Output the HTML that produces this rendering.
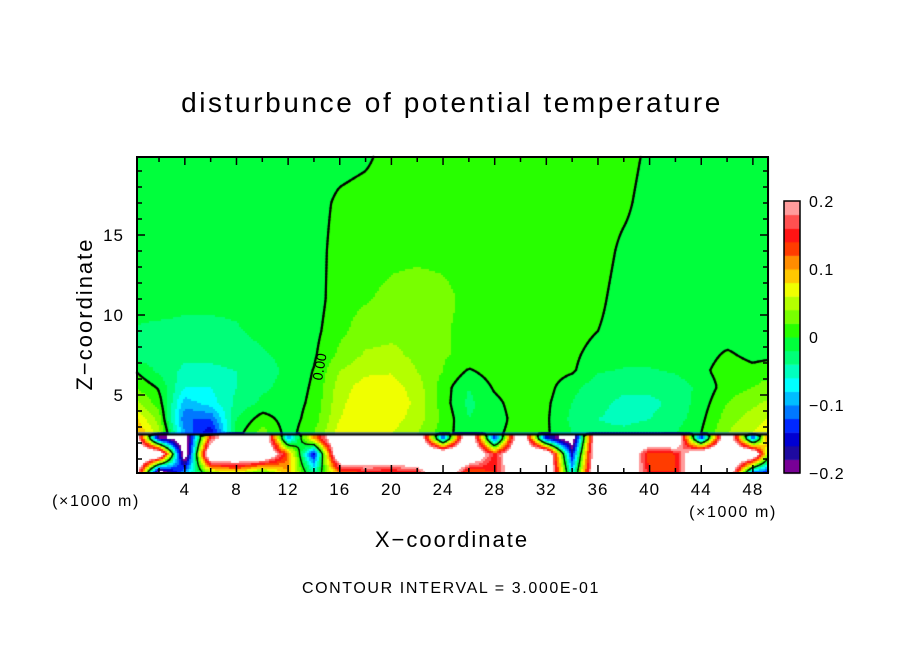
<!DOCTYPE html>
<html><head><meta charset="utf-8"><style>
html,body{margin:0;padding:0;background:#fff;}
#wrap{position:relative;width:904px;height:654px;overflow:hidden;font-family:"Liberation Sans",sans-serif;}
canvas{position:absolute;left:0;top:0;}
svg{position:absolute;left:0;top:0;}
</style></head><body>
<div id="wrap">
<canvas id="cv" width="904" height="654"></canvas>
<svg id="sv" width="904" height="654">
<text x="452" y="112" font-size="28" text-anchor="middle" letter-spacing="2.6">disturbunce of potential temperature</text>
<text x="452" y="547" font-size="22" text-anchor="middle" letter-spacing="2">X−coordinate</text>
<text transform="translate(92,314) rotate(-90)" font-size="22" text-anchor="middle" letter-spacing="2">Z−coordinate</text>
<text x="96" y="506" font-size="16" text-anchor="middle" letter-spacing="1.6">(×1000 m)</text>
<text x="733" y="517" font-size="16" text-anchor="middle" letter-spacing="1.6">(×1000 m)</text>
<text x="451" y="593" font-size="16" text-anchor="middle" letter-spacing="1.6">CONTOUR INTERVAL = 3.000E-01</text>
<text transform="translate(322,381) rotate(-80)" font-size="14">0.00</text>
<g id="axes"></g>
</svg>
</div>
<script>
// ---- data ----
const xNodes=[0,2,4,6,8,10,12,14,16,18,20,22,24,26,28,30,32,34,36,38,40,42,44,46,48,50];
const zUpper=[2.6,3.5,4.5,5.5,6.5,7.5,9,11,14,17,20];
// values in units of 0.01
const rowZ2_6=[11,5,-10,-16,-1,3,-1,2,7,8,6,4,1,-1.5,-0.5,1,0.3,-2,-3.5,-3.5,-3,-2,0,4,6,9];
const rowZ3_5=[9,3,-12,-12,-2,1,-1,1,6,7.5,7,5,1.5,-2,-1,1,0.3,-2.5,-4,-4.5,-4,-3,-0.5,3,5,7];
const rowZ4_5=[5,1,-9,-7,-3.5,-1.5,-1,0.5,5.5,7.5,7.5,5.5,1,-2.5,-0.5,1,0.4,-2,-3.5,-4.5,-4.5,-3.5,-1,2,3.5,5];
const rowZ5_5=[2,-0.3,-6,-6,-4,-2.5,-1.2,0.3,5,7,7,5,1,-2,0.3,1,0.8,-1.5,-3,-3.5,-3.5,-3,-1.5,1,2,3.5];
const rowZ6_5=[0.2,-2.5,-4.5,-4.5,-4,-3,-1.5,0.1,4,5.5,5.8,4,2,-0.3,1,1,1,0.3,-1.8,-2.2,-2.2,-1.8,-0.5,1,0.5,1.5];
const rowZ7_5=[-3,-3,-3.5,-3.5,-3,-2.2,-1.5,-0.3,2.5,4.3,4.5,3.5,2.2,1.5,1.2,1,1,0.5,-1,-1.2,-1.2,-1,-0.8,0.3,-0.5,-0.5];
const rowZ9=[-2.2,-2.5,-2.5,-2.5,-2.2,-1.5,-1,-0.6,1.5,3,3.5,3.5,2.2,1.5,1.2,1,1,1,0,-1,-1,-1,-1,-1,-1,-1];
const rowZ11=[-1,-1,-1.5,-1.5,-1.5,-1,-1,-1,1.2,1.8,2.5,3,2.5,1.5,1.2,1,1,1,0.5,-1,-1,-1,-1,-1,-1,-1];
const rowZ14=[-1,-1,-1,-1,-1,-1,-1,-1,1,1.2,1.5,1.5,1.5,1.2,1,1,1,1,1,-0.5,-1,-1,-1,-1,-1,-1];
const rowZ17=[-1,-1,-1,-1,-1,-1,-1,-1,0.5,1,1,1,1,1,1,1,1,1,1,0.5,-1,-1,-1,-1,-1,-1];
const rowZ20=[-1,-1,-1,-1,-1,-1,-1,-1,-1,-0.5,1,1,1,1,1,1,1,1,1,1,-0.5,-1,-1,-1,-1,-1];
const zLower=[0.2,1.3,2.3];
const lowZ0_2=[30,-22,-10,5,8,2,10,-5,12,15,14,16,30,12,14,30,30,-8,30,30,14,14,30,30,-10,-15];
const lowZ1_3=[30,30,-25,30,30,30,12,-15,30,30,30,30,30,30,15,30,30,-15,30,30,12,14,30,30,30,-15];
const lowZ2_3=[30,-18,-25,16,30,30,-10,10,30,30,30,30,-12,30,-14,30,-15,-25,30,30,30,30,-14,30,-12,30];
const upperRows=[rowZ2_6,rowZ3_5,rowZ4_5,rowZ5_5,rowZ6_5,rowZ7_5,rowZ9,rowZ11,rowZ14,rowZ17,rowZ20];
const lowerRows=[lowZ0_2,lowZ1_3,lowZ2_3];
const colorLevels=["#780096","#1e0aa0","#0000d2","#0028ff","#0078ff","#00beff","#00ffff","#00ffbe","#00ff78","#00ff3c","#28ff00","#78ff00","#b4ff00","#f0ff00","#ffc800","#ff8c00","#ff3c00","#ff1414","#ff5050","#ff9c9c"];
const xTicks=[4,8,12,16,20,24,28,32,36,40,44,48];
const zTicks=[5,10,15];
const cbTicks=[0.2,0.1,0,-0.1,-0.2];
const cbTickLabels=["0.2","0.1","0","−0.1","−0.2"];

// ---- scales ----
const PL=137,PR=768,PT=157,PB=473;
const X=x=>133.2+12.91*x;
const Y=z=>475-16*z;
const Xinv=p=>(p-133.2)/12.91;
const Yinv=p=>(475-p)/16;

function interp(nodes,v){
  if(v<=nodes[0])return [0,0];
  if(v>=nodes[nodes.length-1])return [nodes.length-2,1];
  for(let i=0;i<nodes.length-1;i++){if(v<=nodes[i+1])return [i,(v-nodes[i])/(nodes[i+1]-nodes[i])];}
}
function bil(rows,zn,x,z){
  const [i,fx]=interp(xNodes,x),[j,fz]=interp(zn,z);
  const a=rows[j][i],b=rows[j][i+1],c=rows[j+1][i],d=rows[j+1][i+1];
  return (a*(1-fx)+b*fx)*(1-fz)+(c*(1-fx)+d*fx)*fz;
}
function field(x,z){return z>=2.5?bil(upperRows,zUpper,x,z):bil(lowerRows,zLower,x,z);}
function color(v){
  if(v>=20||v<-20)return "#ffffff";
  return colorLevels[Math.max(0,Math.min(19,Math.floor((v+20)/2)))];
}
const cv=document.getElementById('cv'),ctx=cv.getContext('2d');
const S=2;
for(let py=PT;py<PB;py+=S){for(let px=PL;px<PR;px+=S){
  ctx.fillStyle=color(field(Xinv(px+S/2),Yinv(py+S/2)));
  ctx.fillRect(px,py,S,S);
}}
// zero contour via marching squares
const C=3;
function seg(p1,p2){ctx.beginPath();ctx.moveTo(p1[0],p1[1]);ctx.lineTo(p2[0],p2[1]);ctx.stroke();}
ctx.strokeStyle="#000";ctx.lineCap="round";
for(let py=PT;py<PB-1;py+=C){for(let px=PL;px<PR-1;px+=C){
  const x0=px,x1=Math.min(px+C,PR),y0=py,y1=Math.min(py+C,PB);
  const v=[field(Xinv(x0),Yinv(y0)),field(Xinv(x1),Yinv(y0)),field(Xinv(x1),Yinv(y1)),field(Xinv(x0),Yinv(y1))];
  const P=[[x0,y0],[x1,y0],[x1,y1],[x0,y1]];
  const pts=[];
  for(let k=0;k<4;k++){const a=v[k],b=v[(k+1)%4];
    if((a<0)!==(b<0)){const t=a/(a-b);pts.push([P[k][0]+(P[(k+1)%4][0]-P[k][0])*t,P[k][1]+(P[(k+1)%4][1]-P[k][1])*t]);}}
  ctx.lineWidth=(Yinv(y0)>2.5)?2.2:1.2;
  if(pts.length===2)seg(pts[0],pts[1]);
  else if(pts.length===4){seg(pts[0],pts[1]);seg(pts[2],pts[3]);}
}}
// interface line
ctx.fillStyle="#0028ff";ctx.fillRect(PL,Y(2.5)-2.5,PR-PL,1);
ctx.fillStyle="#000";ctx.fillRect(PL,Y(2.5)-1.5,PR-PL,2);
// colorbar
const CBL=784,CBW=16,CBT=201,CBB=473,ch=(CBB-CBT)/colorLevels.length;
colorLevels.forEach((c,i)=>{ctx.fillStyle=c;ctx.fillRect(CBL,CBB-(i+1)*ch,CBW,ch+0.5);});

// ---- axes (svg) ----
const NS="http://www.w3.org/2000/svg",g=document.getElementById('axes');
function mk(tag,attrs){const e=document.createElementNS(NS,tag);for(const k in attrs)e.setAttribute(k,attrs[k]);g.appendChild(e);return e;}
let fr=mk('rect',{x:PL,y:PT,width:PR-PL,height:PB-PT,fill:'none',stroke:'#000','stroke-width':2});


let cb=mk('rect',{x:CBL,y:CBT,width:CBW,height:CBB-CBT,fill:'none',stroke:'#000','stroke-width':1.5});


for(let x=2;x<=48;x+=2){
  const major=x%4===0,L=major?8:5;
  let t1=mk('line',{x1:X(x),x2:X(x),y1:PB,y2:PB-L,stroke:'#000','stroke-width':1.5});
  
  
  let t2=mk('line',{x1:X(x),x2:X(x),y1:PT,y2:PT+L,stroke:'#000','stroke-width':1.5});
  
  
}
xTicks.forEach(x=>{
  let t=mk('text',{x:X(x),y:495,'font-size':17,'text-anchor':'middle','letter-spacing':1});t.textContent=String(x);
  
  
});
for(let z=1;z<=19;z++){
  const major=z%5===0,L=major?8:5;
  let t1=mk('line',{x1:PL,x2:PL+L,y1:Y(z),y2:Y(z),stroke:'#000','stroke-width':1.5});
  
  
  let t2=mk('line',{x1:PR,x2:PR-L,y1:Y(z),y2:Y(z),stroke:'#000','stroke-width':1.5});
  
  
}
zTicks.forEach(z=>{
  let t=mk('text',{x:124,y:Y(z)+6,'font-size':17,'text-anchor':'end','letter-spacing':1});t.textContent=String(z);
  
  
});
cbTicks.forEach((v,i)=>{
  const y=CBB-(v+0.2)/0.4*(CBB-CBT);
  let t=mk('text',{x:809,y:y+6,'font-size':16,'letter-spacing':1});t.textContent=cbTickLabels[i];
  
  
});
</script>
</body></html>
